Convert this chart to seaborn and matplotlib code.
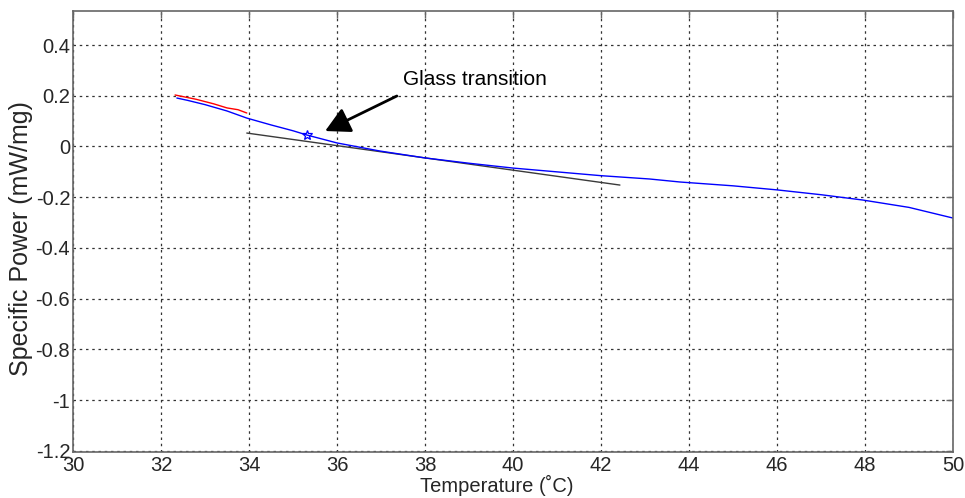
import matplotlib
matplotlib.use("Agg")
import matplotlib.pyplot as plt
import seaborn as sns
import pandas as pd

# Data
blue_x = [32.36, 32.6, 33.0, 33.5, 33.95, 34.5, 35.0, 35.32, 36.0, 36.98, 38.0, 39.0, 40.0, 41.0, 42.0, 43.1, 43.8, 45.0, 46.0, 47.0, 47.95, 49.0, 50.0]
blue_y = [0.191, 0.182, 0.165, 0.14, 0.112, 0.085, 0.062, 0.045, 0.014, -0.018, -0.045, -0.066, -0.085, -0.1, -0.115, -0.128, -0.14, -0.155, -0.171, -0.19, -0.211, -0.24, -0.282]
red_x = [32.32, 32.8, 33.2, 33.5, 33.75, 33.95]
red_y = [0.203, 0.186, 0.168, 0.152, 0.145, 0.132]
black_x = [33.95, 38.0, 42.43]
black_y = [0.053, -0.045, -0.152]
star_x = [35.32]
star_y = [0.045]
x_ticks = [30, 32, 34, 36, 38, 40, 42, 44, 46, 48, 50]
y_ticks = [0.4, 0.2, 0, -0.2, -0.4, -0.6, -0.8, -1, -1.2]
y_tick_labels = ["0.4", "0.2", "0", "-0.2", "-0.4", "-0.6", "-0.8", "-1", "-1.2"]
annot_text = "Glass transition"

sns.set_style("white")
plt.rcParams["font.family"] = ["Liberation Sans", "DejaVu Sans"]
plt.rcParams["axes.unicode_minus"] = False

fig = plt.figure(figsize=(9.65, 4.98), dpi=100)
ax = fig.add_axes([73 / 965, 1 - 452 / 498, (953 - 73) / 965, (452 - 11) / 498])

sns.lineplot(x=black_x, y=black_y, ax=ax, color="#3a3a3a", linewidth=1.0, sort=False)
sns.lineplot(x=blue_x, y=blue_y, ax=ax, color="#0000ff", linewidth=1.0, sort=False)
sns.lineplot(x=red_x, y=red_y, ax=ax, color="#ff0000", linewidth=1.0, sort=False)
ax.plot(star_x, star_y, marker="*", markersize=7, markerfacecolor="none",
        markeredgecolor="#0000ff", markeredgewidth=0.9, linestyle="none")

# arrow and label
ax.annotate("", xy=(35.73, 0.061), xytext=(37.36, 0.199),
            arrowprops=dict(arrowstyle="-|>,head_length=0.75,head_width=0.4",
                            color="black", linewidth=2, shrinkA=0, shrinkB=0,
                            mutation_scale=20))
ax.text(37.5, 0.263, annot_text, fontsize=15, color="black", ha="left", va="center")

ax.set_xlim(30, 50)
ax.set_ylim(-1.204, 0.534)
ax.set_xticks(x_ticks)
ax.set_xticklabels([str(t) for t in x_ticks])
ax.set_yticks(y_ticks)
ax.set_yticklabels(y_tick_labels)
ax.grid(True, linestyle=(0, (2, 3)), color="#333333", linewidth=0.9)
ax.tick_params(direction="in", length=5, width=1, color="#666666",
               top=True, right=True, labelsize=14.5)
ax.tick_params(axis="x", pad=3)
ax.tick_params(axis="y", pad=2)
for s in ax.spines.values():
    s.set_color("#666666")
    s.set_linewidth(1.2)
ax.set_xlabel("Temperature (\u02daC)", fontsize=14.5)
ax.set_ylabel("Specific Power (mW/mg)", fontsize=18)
ax.xaxis.set_label_coords(0.482, -0.052)
ax.yaxis.set_label_coords(-0.046, 0.485)

fig.savefig("out.png", dpi=100)
